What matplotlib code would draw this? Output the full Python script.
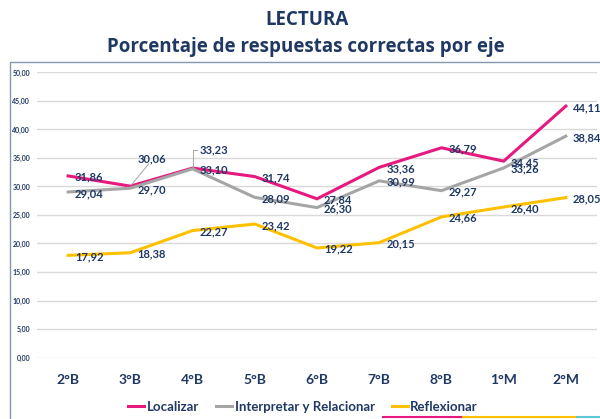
import matplotlib
matplotlib.use('Agg')
import matplotlib.pyplot as plt
from matplotlib.patches import Rectangle
from matplotlib.lines import Line2D

plt.rcParams['font.family'] = ['Lato', 'DejaVu Sans']

grados = ['2°B', '3°B', '4°B', '5°B', '6°B', '7°B', '8°B', '1°M', '2°M']
localizar = [31.86, 30.06, 33.23, 31.74, 27.84, 33.36, 36.79, 34.45, 44.11]
interpretar = [29.04, 29.70, 33.10, 28.09, 26.30, 30.99, 29.27, 33.26, 38.84]
reflexionar = [17.92, 18.38, 22.27, 23.42, 19.22, 20.15, 24.66, 26.40, 28.05]
yticks = [0, 5, 10, 15, 20, 25, 30, 35, 40, 45, 50]

azul = '#1F3864'
series = [
    ('Localizar', localizar, '#E6197F'),
    ('Interpretar y Relacionar', interpretar, '#A5A5A5'),
    ('Reflexionar', reflexionar, '#FFC000'),
]

fig = plt.figure(figsize=(6, 4.19), dpi=100)
ax = fig.add_axes([37/600, 1-357.5/419, 560/600, 285/419])

x = list(range(len(grados)))
handles = []
for nombre, vals, color in series:
    h, = ax.plot(x, vals, color=color, lw=2.2, label=nombre, solid_joinstyle='miter')
    handles.append(h)

def fmt(v):
    return f'{v:.2f}'.replace('.', ',')

# etiquetas a la derecha de cada punto (las de 3°B y 4°B de Localizar se movieron)
movidas = {1: ((5, 20), 'diag'), 2: ((5, 13), 'codo')}
for nombre, vals, color in series:
    for i, v in enumerate(vals):
        if nombre == 'Localizar' and i in movidas:
            off, tipo = movidas[i]
            if tipo == 'diag':
                ax.annotate(fmt(v), (i, v), xytext=off, textcoords='offset points',
                            ha='left', va='center', fontsize=8, fontweight='bold',
                            color=azul, zorder=5,
                            arrowprops=dict(arrowstyle='-', color='#A6A6A6', lw=0.7,
                                            shrinkA=0, shrinkB=1, relpos=(0.4, 0.0),
                                            patchA=None))
            else:
                ax.annotate(fmt(v), (i, v), xytext=off, textcoords='offset points',
                            ha='left', va='center', fontsize=8, fontweight='bold',
                            color=azul, zorder=5,
                            arrowprops=dict(arrowstyle='-', color='#A6A6A6', lw=0.7,
                                            shrinkA=2, shrinkB=1, relpos=(0, 0.5),
                                            patchA=None,
                                            connectionstyle='angle,angleA=180,angleB=90,rad=0'))
        else:
            ax.annotate(fmt(v), (i, v), xytext=(5, -1), textcoords='offset points',
                        ha='left', va='center', fontsize=8, fontweight='bold',
                        color=azul, zorder=5)

ax.set_xlim(-0.5, 8.5)
ax.set_ylim(0, 50)
ax.set_yticks(yticks)
ax.set_yticklabels([fmt(t) for t in yticks], fontsize=5, fontweight='bold', color=azul)
ax.set_xticks(x)
ax.set_xticklabels(grados, fontsize=10, fontweight='bold', color=azul)
ax.tick_params(axis='both', length=0)
ax.tick_params(axis='y', pad=5)
ax.tick_params(axis='x', pad=12)
ax.grid(axis='y', color='#D9D9D9', lw=1)
ax.set_axisbelow(True)
for s in ax.spines.values():
    s.set_visible(False)

fig.text(307/600, 1-20/419, 'LECTURA', ha='center', va='center',
         fontsize=13.5, fontweight='bold', color=azul, family=['Open Sans', 'DejaVu Sans'])
fig.text(306/600, 1-47/419, 'Porcentaje de respuestas correctas por eje', ha='center',
         va='center', fontsize=13.5, fontweight='bold', color=azul,
         family=['Open Sans', 'DejaVu Sans'])

leg = fig.legend(handles=handles, loc='center', bbox_to_anchor=(303/600, 1-407/419),
                 ncol=3, frameon=False, fontsize=9.5, handlelength=1.2, handletextpad=0.2,
                 columnspacing=1.3)
for t in leg.get_texts():
    t.set_color(azul)
    t.set_fontweight('bold')

# marco y adorno inferior de la diapositiva
fig.patches.append(Rectangle((10/600, -0.05), 1.0, 1.05-62/419, transform=fig.transFigure,
                             fill=False, edgecolor='#8497B0', lw=1))
for x0, x1, c in [(383, 463, '#E6197F'), (463, 577, '#FFC000'), (577, 600, '#5BC8D5')]:
    fig.add_artist(Line2D([x0/600, x1/600], [1-417/419, 1-417/419], color=c, lw=1.5,
                          transform=fig.transFigure))

fig.savefig('out.png', dpi=100)
